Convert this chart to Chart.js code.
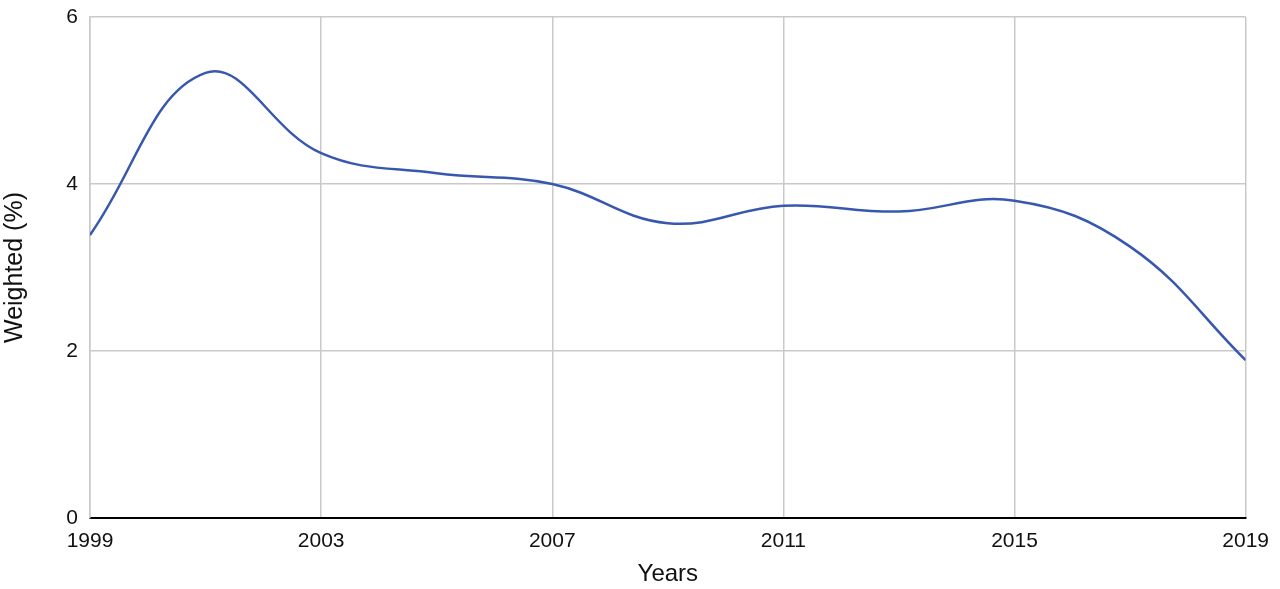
<!DOCTYPE html>
<html>
<head>
<meta charset="utf-8">
<script src="https://cdn.jsdelivr.net/npm/chart.js@4"></script>
<style>
  html, body { margin: 0; padding: 0; background: #fff; }
  #wrap { width: 1280px; height: 589px; }
</style>
</head>
<body>
<div id="wrap"><canvas id="myChart" width="1280" height="589"></canvas></div>
<script>
'use strict';

// values
let years = [1999, 2001, 2003, 2005, 2007, 2009, 2011, 2013, 2015, 2017, 2019];
let weighted = [3.39, 5.33, 4.37, 4.13, 4.0, 3.53, 3.74, 3.67, 3.8, 3.25, 1.89];
let yTicks = [0, 2, 4, 6];
let xTicks = [1999, 2003, 2007, 2011, 2015, 2019];

let points = [];
for (let i = 0; i < years.length; i++) {
  points.push({ x: years[i], y: weighted[i] });
}

let gridColor = '#c9c9c9';
let fontFam = '"Liberation Sans", Arial, sans-serif';

let ctx = document.getElementById('myChart').getContext('2d');
let myChart = new Chart(ctx, {
  type: 'line',
  data: {
    datasets: [{
      label: 'Weighted (%)',
      data: points,
      borderColor: '#3758ae',
      borderWidth: 2.5,
      pointRadius: 0,
      tension: 0.4,
      fill: false
    }]
  },
  options: {
    responsive: false,
    animation: false,
    layout: { padding: { top: 17, right: 33, left: 0, bottom: 0 } },
    plugins: { legend: { display: false }, tooltip: { enabled: false } },
    scales: {
      x: {
        type: 'linear',
        min: 1999,
        max: 2019,
        afterFit: s => { s.height = 71; },
        afterBuildTicks: s => { s.ticks = xTicks.map(v => ({ value: v })); },
        grid: { color: gridColor, lineWidth: 1.5, drawTicks: false },
        border: { color: '#000', width: 2 },
        ticks: {
          padding: 11,
          color: '#111',
          font: { family: fontFam, size: 21 },
          callback: v => String(v)
        },
        title: {
          display: true,
          text: 'Years',
          color: '#111',
          font: { family: fontFam, size: 24 },
          padding: { top: 3.6, bottom: 0 }
        }
      },
      y: {
        min: 0,
        max: 6,
        afterFit: s => { s.width = 90; s.paddingTop = 0; s.paddingBottom = 0; },
        afterBuildTicks: s => { s.ticks = yTicks.map(v => ({ value: v })); },
        grid: { color: gridColor, lineWidth: 1.5, drawTicks: false },
        border: { color: gridColor, width: 1.5 },
        ticks: {
          padding: 12,
          color: '#111',
          font: { family: fontFam, size: 21 }
        },
        title: {
          display: true,
          text: 'Weighted (%)',
          color: '#111',
          font: { family: fontFam, size: 25 },
          padding: { top: 0, bottom: 0 }
        }
      }
    }
  }
});
</script>
</body>
</html>
